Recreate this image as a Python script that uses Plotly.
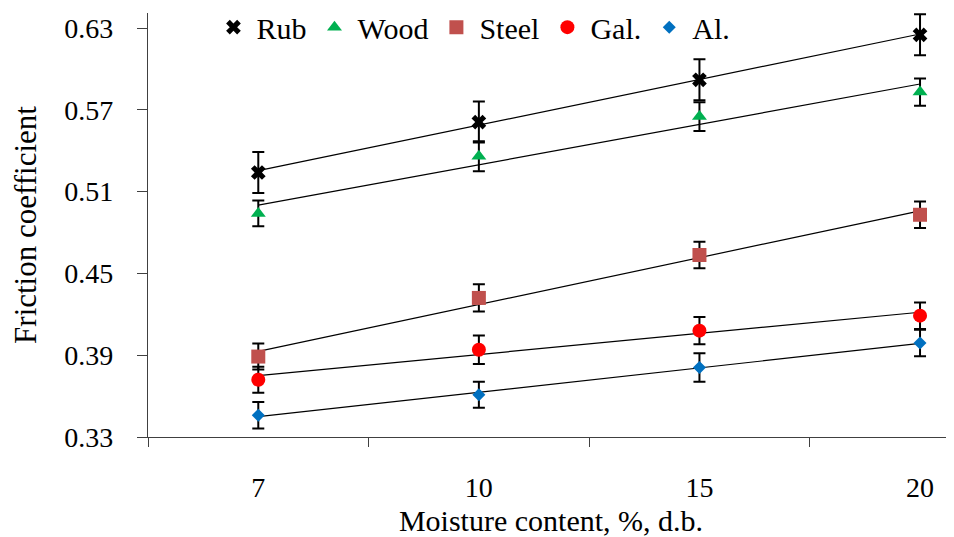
import numpy as np
import plotly.graph_objects as go

moisture = ["7", "10", "15", "20"]
rub = [0.524, 0.561, 0.592, 0.625]
wood = [0.494, 0.536, 0.565, 0.583]
steel = [0.389, 0.432, 0.4635, 0.493]
gal = [0.372, 0.394, 0.408, 0.419]
al = [0.346, 0.361, 0.381, 0.399]
rub_err = [0.015, 0.015, 0.015, 0.015]
wood_err = [0.0095, 0.011, 0.0105, 0.01]
steel_err = [0.0095, 0.010, 0.0097, 0.0097]
gal_err = [0.0095, 0.0105, 0.010, 0.0097]
al_err = [0.0097, 0.0095, 0.0104, 0.0097]
y_ticks = [0.33, 0.39, 0.45, 0.51, 0.57, 0.63]

FONT = "Liberation Serif, Times New Roman, serif"
xi = np.arange(len(moisture))

series = [
    ("Rub", rub, rub_err, "black", "x", 13),
    ("Wood", wood, wood_err, "#00B050", "triangle-up", 13),
    ("Steel", steel, steel_err, "#C0504D", "square", 14),
    ("Gal.", gal, gal_err, "#FF0000", "circle", 14),
    ("Al.", al, al_err, "#0070C0", "diamond", 10),
]

fig = go.Figure()

# linear trend lines
for name, vals, err, col, sym, sz in series:
    k, b = np.polyfit(xi, vals, 1)
    xs = np.array([xi[0], xi[-1]])
    fig.add_trace(go.Scatter(x=xs, y=k * xs + b, mode="lines",
                             line=dict(color="black", width=1.2),
                             showlegend=False, hoverinfo="skip"))

for name, vals, err, col, sym, sz in series:
    fig.add_trace(go.Scatter(
        x=xi, y=vals, mode="markers", name=name,
        marker=dict(symbol=sym, size=sz, color=col, line=dict(width=0)),
        error_y=dict(type="data", array=err, visible=True, color="black",
                     thickness=2, width=6),
    ))

fig.update_layout(
    width=954, height=537, autosize=False,
    margin=dict(l=140, r=8, t=5, b=108, autoexpand=False),
    paper_bgcolor="white", plot_bgcolor="white",
    font=dict(family=FONT, size=28, color="black"),
    showlegend=True,
    legend=dict(orientation="h", x=0.0775, xanchor="left",
                y=1.028, yanchor="top",
                bgcolor="rgba(0,0,0,0)", font=dict(family=FONT, size=30, color="black"),
                itemwidth=36, tracegroupgap=0),
)

fig.update_xaxes(
    range=[-0.5, 3.154], showgrid=False, zeroline=False, automargin=False,
    showline=True, linecolor="#404040", linewidth=1.3,
    tickmode="array", tickvals=list(xi), ticktext=moisture,
    ticks="", ticklabelstandoff=25,
    tickfont=dict(family=FONT, size=28),
    minor=dict(tickmode="array", tickvals=[-0.5, 0.5, 1.5, 2.5],
               ticks="outside", ticklen=9, tickcolor="#404040", tickwidth=1.3,
               showgrid=False),
    title=dict(text="Moisture content, %, d.b.", font=dict(family=FONT, size=30),
               standoff=8),
)
fig.update_yaxes(
    range=[0.33, 0.641], showgrid=False, zeroline=False, automargin=False,
    showline=True, linecolor="#404040", linewidth=1.3,
    tickmode="array", tickvals=y_ticks, ticktext=[f"{v:.2f}" for v in y_ticks],
    ticks="outside", ticklen=10, tickcolor="#404040", tickwidth=1.3,
    ticklabelstandoff=18,
    tickfont=dict(family=FONT, size=28),
    title=dict(text="Friction coefficient", font=dict(family=FONT, size=31),
               standoff=21),
)

fig.write_html("out.html")
